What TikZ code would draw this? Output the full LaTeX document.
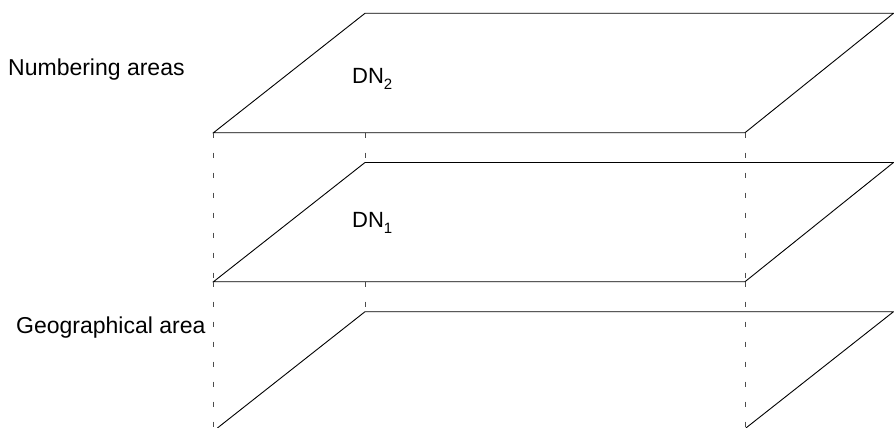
\documentclass[tikz,border=0pt]{standalone}
\usepackage{fontspec}
\setmainfont{Liberation Sans}
\newcommand{\dnsub}[1]{\raisebox{-6pt}{\fontsize{15}{18}\selectfont #1}}
\begin{document}
\begin{tikzpicture}[x=1pt,y=-1pt,
  edge/.style={draw=black,line width=0.9pt,line join=miter},
  guide/.style={draw=black!70,line width=0.7pt,dash pattern=on 5pt off 15pt},
  lbl/.style={anchor=base west,inner sep=0pt,font=\fontsize{23}{27}\selectfont},
  dnlbl/.style={anchor=base west,inner sep=0pt,font=\fontsize{22}{26}\selectfont}]
\useasboundingbox (0,0) rectangle (894,428);
% top plane
\coordinate (A1) at (213.5,132.7);
\coordinate (B1) at (365,13.3);
\coordinate (C1) at (893.5,13.3);
\coordinate (D1) at (745,132.7);
% middle plane
\coordinate (A2) at (213.5,281.7);
\coordinate (B2) at (365,162.5);
\coordinate (C2) at (893.5,162.5);
\coordinate (D2) at (745,281.7);
% bottom plane
\coordinate (B3) at (365,311.7);
\coordinate (C3) at (893.5,311.7);
\coordinate (E3) at (217.4,428);
\coordinate (F3) at (745.9,428);
% guide ends
\coordinate (A3) at (213.5,428);
\coordinate (D3) at (745,428);
\coordinate (G1) at (365,132.7);
\coordinate (G2) at (365,281.7);

\draw[edge] (A1) -- (B1) -- (C1) -- (D1) -- cycle;
\draw[edge] (A2) -- (B2) -- (C2) -- (D2) -- cycle;
\draw[edge] (E3) -- (B3) -- (C3) -- (F3);

\draw[guide] (A1) -- (A2);
\draw[guide] (A2) -- (A3);
\draw[guide] (G1) -- (B2);
\draw[guide] (G2) -- (B3);
\draw[guide] (D1) -- (D2);
\draw[guide] (D2) -- (D3);

\node[lbl] (num) at (8,76) {Numbering areas};
\node[lbl] (geo) at (16,333) {Geographical area};
\node[dnlbl] (dn2) at (352,83) {DN\dnsub{2}};
\node[dnlbl] (dn1) at (352,227) {DN\dnsub{1}};
\end{tikzpicture}
\end{document}
